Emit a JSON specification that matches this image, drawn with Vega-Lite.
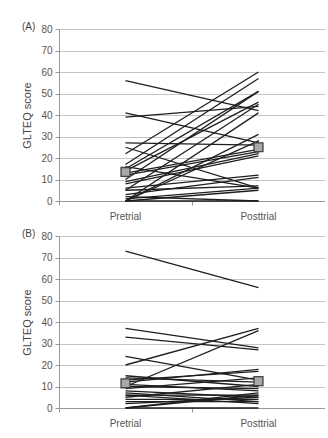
{
  "$schema": "https://vega.github.io/schema/vega-lite/v6.json",
  "background": "white",
  "padding": {"left": 21, "top": 22, "right": 0, "bottom": 0},
  "datasets": {
    "subjects": [
      {"panel": "A", "id": 1, "phase": "Pretrial", "score": 56}, {"panel": "A", "id": 1, "phase": "Posttrial", "score": 42},
      {"panel": "A", "id": 2, "phase": "Pretrial", "score": 41}, {"panel": "A", "id": 2, "phase": "Posttrial", "score": 27},
      {"panel": "A", "id": 3, "phase": "Pretrial", "score": 39}, {"panel": "A", "id": 3, "phase": "Posttrial", "score": 44},
      {"panel": "A", "id": 4, "phase": "Pretrial", "score": 27}, {"panel": "A", "id": 4, "phase": "Posttrial", "score": 26},
      {"panel": "A", "id": 5, "phase": "Pretrial", "score": 25}, {"panel": "A", "id": 5, "phase": "Posttrial", "score": 6},
      {"panel": "A", "id": 6, "phase": "Pretrial", "score": 22}, {"panel": "A", "id": 6, "phase": "Posttrial", "score": 60},
      {"panel": "A", "id": 7, "phase": "Pretrial", "score": 17}, {"panel": "A", "id": 7, "phase": "Posttrial", "score": 57},
      {"panel": "A", "id": 8, "phase": "Pretrial", "score": 15}, {"panel": "A", "id": 8, "phase": "Posttrial", "score": 51},
      {"panel": "A", "id": 9, "phase": "Pretrial", "score": 14}, {"panel": "A", "id": 9, "phase": "Posttrial", "score": 46},
      {"panel": "A", "id": 10, "phase": "Pretrial", "score": 10}, {"panel": "A", "id": 10, "phase": "Posttrial", "score": 51},
      {"panel": "A", "id": 11, "phase": "Pretrial", "score": 5}, {"panel": "A", "id": 11, "phase": "Posttrial", "score": 45},
      {"panel": "A", "id": 12, "phase": "Pretrial", "score": 0}, {"panel": "A", "id": 12, "phase": "Posttrial", "score": 41},
      {"panel": "A", "id": 13, "phase": "Pretrial", "score": 0}, {"panel": "A", "id": 13, "phase": "Posttrial", "score": 31},
      {"panel": "A", "id": 14, "phase": "Pretrial", "score": 12}, {"panel": "A", "id": 14, "phase": "Posttrial", "score": 23},
      {"panel": "A", "id": 15, "phase": "Pretrial", "score": 9}, {"panel": "A", "id": 15, "phase": "Posttrial", "score": 22},
      {"panel": "A", "id": 16, "phase": "Pretrial", "score": 8}, {"panel": "A", "id": 16, "phase": "Posttrial", "score": 21},
      {"panel": "A", "id": 17, "phase": "Pretrial", "score": 13}, {"panel": "A", "id": 17, "phase": "Posttrial", "score": 24},
      {"panel": "A", "id": 18, "phase": "Pretrial", "score": 16}, {"panel": "A", "id": 18, "phase": "Posttrial", "score": 6},
      {"panel": "A", "id": 19, "phase": "Pretrial", "score": 6}, {"panel": "A", "id": 19, "phase": "Posttrial", "score": 12},
      {"panel": "A", "id": 20, "phase": "Pretrial", "score": 3}, {"panel": "A", "id": 20, "phase": "Posttrial", "score": 11},
      {"panel": "A", "id": 21, "phase": "Pretrial", "score": 5}, {"panel": "A", "id": 21, "phase": "Posttrial", "score": 7},
      {"panel": "A", "id": 22, "phase": "Pretrial", "score": 1}, {"panel": "A", "id": 22, "phase": "Posttrial", "score": 6},
      {"panel": "A", "id": 23, "phase": "Pretrial", "score": 0}, {"panel": "A", "id": 23, "phase": "Posttrial", "score": 5},
      {"panel": "A", "id": 24, "phase": "Pretrial", "score": 0}, {"panel": "A", "id": 24, "phase": "Posttrial", "score": 0},
      {"panel": "A", "id": 25, "phase": "Pretrial", "score": 2}, {"panel": "A", "id": 25, "phase": "Posttrial", "score": 0},
      {"panel": "A", "id": 26, "phase": "Pretrial", "score": 0}, {"panel": "A", "id": 26, "phase": "Posttrial", "score": 28},
      {"panel": "B", "id": 1, "phase": "Pretrial", "score": 73}, {"panel": "B", "id": 1, "phase": "Posttrial", "score": 56},
      {"panel": "B", "id": 2, "phase": "Pretrial", "score": 37}, {"panel": "B", "id": 2, "phase": "Posttrial", "score": 28},
      {"panel": "B", "id": 3, "phase": "Pretrial", "score": 33}, {"panel": "B", "id": 3, "phase": "Posttrial", "score": 27},
      {"panel": "B", "id": 4, "phase": "Pretrial", "score": 24}, {"panel": "B", "id": 4, "phase": "Posttrial", "score": 13},
      {"panel": "B", "id": 5, "phase": "Pretrial", "score": 20}, {"panel": "B", "id": 5, "phase": "Posttrial", "score": 37},
      {"panel": "B", "id": 6, "phase": "Pretrial", "score": 10}, {"panel": "B", "id": 6, "phase": "Posttrial", "score": 36},
      {"panel": "B", "id": 7, "phase": "Pretrial", "score": 15}, {"panel": "B", "id": 7, "phase": "Posttrial", "score": 10},
      {"panel": "B", "id": 8, "phase": "Pretrial", "score": 14}, {"panel": "B", "id": 8, "phase": "Posttrial", "score": 12},
      {"panel": "B", "id": 9, "phase": "Pretrial", "score": 13}, {"panel": "B", "id": 9, "phase": "Posttrial", "score": 17},
      {"panel": "B", "id": 10, "phase": "Pretrial", "score": 12}, {"panel": "B", "id": 10, "phase": "Posttrial", "score": 18},
      {"panel": "B", "id": 11, "phase": "Pretrial", "score": 11}, {"panel": "B", "id": 11, "phase": "Posttrial", "score": 8},
      {"panel": "B", "id": 12, "phase": "Pretrial", "score": 9}, {"panel": "B", "id": 12, "phase": "Posttrial", "score": 14},
      {"panel": "B", "id": 13, "phase": "Pretrial", "score": 8}, {"panel": "B", "id": 13, "phase": "Posttrial", "score": 5},
      {"panel": "B", "id": 14, "phase": "Pretrial", "score": 7}, {"panel": "B", "id": 14, "phase": "Posttrial", "score": 3},
      {"panel": "B", "id": 15, "phase": "Pretrial", "score": 6}, {"panel": "B", "id": 15, "phase": "Posttrial", "score": 6},
      {"panel": "B", "id": 16, "phase": "Pretrial", "score": 5}, {"panel": "B", "id": 16, "phase": "Posttrial", "score": 11},
      {"panel": "B", "id": 17, "phase": "Pretrial", "score": 4}, {"panel": "B", "id": 17, "phase": "Posttrial", "score": 4},
      {"panel": "B", "id": 18, "phase": "Pretrial", "score": 3}, {"panel": "B", "id": 18, "phase": "Posttrial", "score": 3},
      {"panel": "B", "id": 19, "phase": "Pretrial", "score": 0}, {"panel": "B", "id": 19, "phase": "Posttrial", "score": 7},
      {"panel": "B", "id": 20, "phase": "Pretrial", "score": 0}, {"panel": "B", "id": 20, "phase": "Posttrial", "score": 0},
      {"panel": "B", "id": 21, "phase": "Pretrial", "score": 2}, {"panel": "B", "id": 21, "phase": "Posttrial", "score": 5},
      {"panel": "B", "id": 22, "phase": "Pretrial", "score": 10}, {"panel": "B", "id": 22, "phase": "Posttrial", "score": 9},
      {"panel": "B", "id": 23, "phase": "Pretrial", "score": 6}, {"panel": "B", "id": 23, "phase": "Posttrial", "score": 2},
      {"panel": "B", "id": 24, "phase": "Pretrial", "score": 0}, {"panel": "B", "id": 24, "phase": "Posttrial", "score": 6}
    ],
    "means": [
      {"panel": "A", "phase": "Pretrial", "mean": 13.5, "lo": 11, "hi": 16},
      {"panel": "A", "phase": "Posttrial", "mean": 25, "lo": 22, "hi": 28.5},
      {"panel": "B", "phase": "Pretrial", "mean": 11.5, "lo": 9.5, "hi": 13.5},
      {"panel": "B", "phase": "Posttrial", "mean": 12.5, "lo": 10.5, "hi": 14.5}
    ]
  },
  "vconcat": [
    {
      "title": {"text": "(A)", "anchor": "start", "frame": "bounds", "orient": "top", "dy": 12, "dx": 0},
      "width": 266, "height": 172,
      "encoding": {
        "x": {"field": "phase", "type": "nominal", "sort": ["Pretrial", "Posttrial"], "scale": {"type": "band", "paddingInner": 0, "paddingOuter": 0}},
        "y": {"type": "quantitative", "scale": {"domain": [0, 80]}, "title": "GLTEQ score", "axis": {"values": [0, 10, 20, 30, 40, 50, 60, 70, 80], "labelOverlap": false}}
      },
      "layer": [
        {"data": {"name": "subjects"}, "transform": [{"filter": "datum.panel === 'A'"}],
         "mark": {"type": "line", "color": "#1e1e1e", "strokeWidth": 1.3},
         "encoding": {"y": {"field": "score", "type": "quantitative", "scale": {"domain": [0, 80]}, "title": "GLTEQ score", "axis": {"values": [0, 10, 20, 30, 40, 50, 60, 70, 80], "labelOverlap": false}}, "detail": {"field": "id"}}},
        {"data": {"name": "means"}, "transform": [{"filter": "datum.panel === 'A'"}],
         "mark": {"type": "rule", "color": "#555", "strokeWidth": 1.2},
         "encoding": {"y": {"field": "lo", "type": "quantitative", "scale": {"domain": [0, 80]}, "title": "GLTEQ score", "axis": {"values": [0, 10, 20, 30, 40, 50, 60, 70, 80], "labelOverlap": false}}, "y2": {"field": "hi"}}},
        {"data": {"name": "means"}, "transform": [{"filter": "datum.panel === 'A'"}],
         "mark": {"type": "square", "size": 80, "fill": "#a8a8a8", "stroke": "#444", "strokeWidth": 1.3, "opacity": 1},
         "encoding": {"y": {"field": "mean", "type": "quantitative", "scale": {"domain": [0, 80]}, "title": "GLTEQ score", "axis": {"values": [0, 10, 20, 30, 40, 50, 60, 70, 80], "labelOverlap": false}}}}
      ]
    },
    {
      "title": {"text": "(B)", "anchor": "start", "frame": "bounds", "orient": "top", "dy": 12, "dx": 0},
      "width": 266, "height": 172,
      "encoding": {
        "x": {"field": "phase", "type": "nominal", "sort": ["Pretrial", "Posttrial"], "scale": {"type": "band", "paddingInner": 0, "paddingOuter": 0}},
        "y": {"type": "quantitative", "scale": {"domain": [0, 80]}, "title": "GLTEQ score", "axis": {"values": [0, 10, 20, 30, 40, 50, 60, 70, 80], "labelOverlap": false}}
      },
      "layer": [
        {"data": {"name": "subjects"}, "transform": [{"filter": "datum.panel === 'B'"}],
         "mark": {"type": "line", "color": "#1e1e1e", "strokeWidth": 1.3},
         "encoding": {"y": {"field": "score", "type": "quantitative", "scale": {"domain": [0, 80]}, "title": "GLTEQ score", "axis": {"values": [0, 10, 20, 30, 40, 50, 60, 70, 80], "labelOverlap": false}}, "detail": {"field": "id"}}},
        {"data": {"name": "means"}, "transform": [{"filter": "datum.panel === 'B'"}],
         "mark": {"type": "rule", "color": "#555", "strokeWidth": 1.2},
         "encoding": {"y": {"field": "lo", "type": "quantitative", "scale": {"domain": [0, 80]}, "title": "GLTEQ score", "axis": {"values": [0, 10, 20, 30, 40, 50, 60, 70, 80], "labelOverlap": false}}, "y2": {"field": "hi"}}},
        {"data": {"name": "means"}, "transform": [{"filter": "datum.panel === 'B'"}],
         "mark": {"type": "square", "size": 80, "fill": "#a8a8a8", "stroke": "#444", "strokeWidth": 1.3, "opacity": 1},
         "encoding": {"y": {"field": "mean", "type": "quantitative", "scale": {"domain": [0, 80]}, "title": "GLTEQ score", "axis": {"values": [0, 10, 20, 30, 40, 50, 60, 70, 80], "labelOverlap": false}}}}
      ]
    }
  ],
  "spacing": 8,
  "config": {
    "font": "Liberation Sans",
    "view": {"stroke": null},
    "title": {"fontSize": 10, "fontWeight": "normal", "color": "#444", "offset": 0},
    "axisX": {"title": null, "labelAngle": 0, "bandPosition": 0, "grid": false, "domainColor": "#999", "tickColor": "#999", "tickSize": 4, "labelFontSize": 10, "labelColor": "#555", "labelPadding": 6},
    "axisY": {"gridColor": "#c4c4c4", "gridWidth": 1, "domainColor": "#999", "tickColor": "#999", "tickSize": 4, "labelFontSize": 10, "labelColor": "#555", "labelPadding": 3, "titleFontSize": 11, "titleFontWeight": "normal", "titleColor": "#444", "titlePadding": 8}
  }
}
